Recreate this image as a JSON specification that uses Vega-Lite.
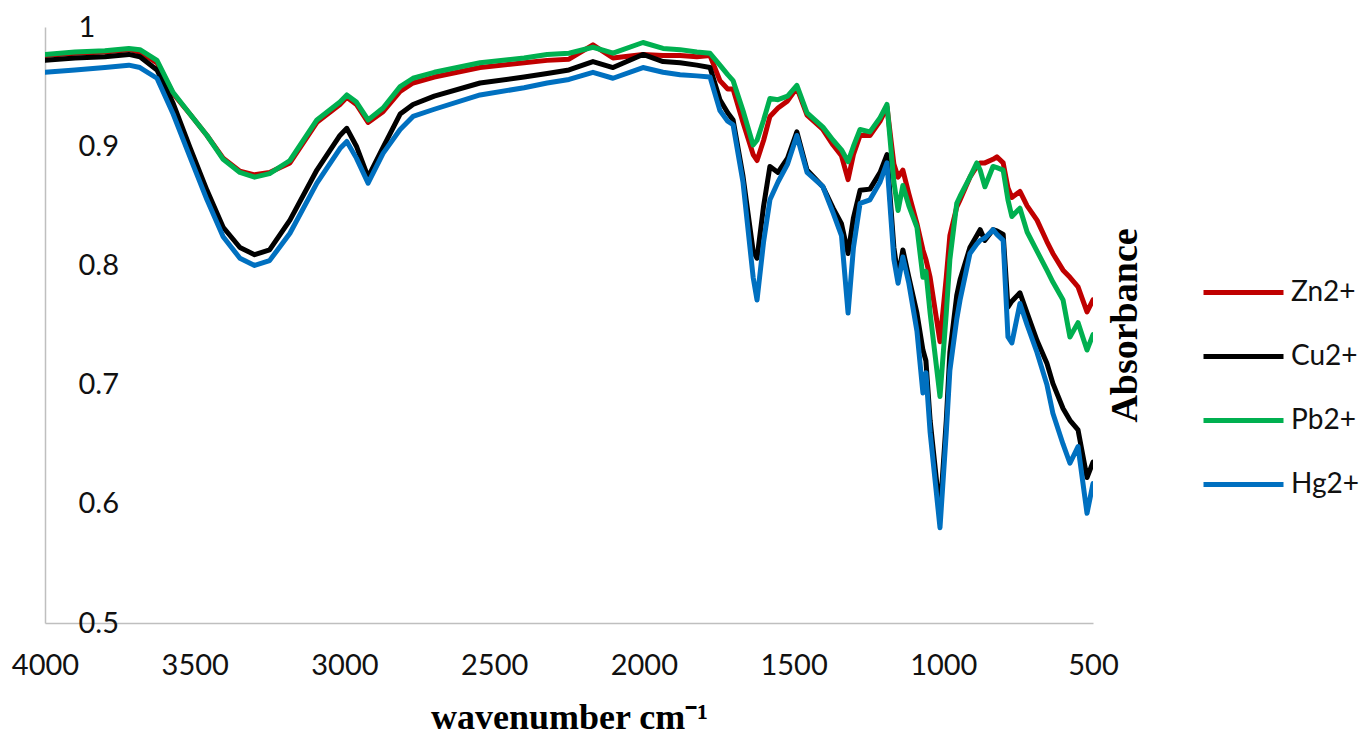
{
  "$schema": "https://vega.github.io/schema/vega-lite/v6.json",
  "autosize": {"type": "none"},
  "width": 1048,
  "height": 596,
  "padding": {"left": 45, "top": 27, "right": 269, "bottom": 118},
  "background": "white",
  "config": {"view": {"stroke": null}},
  "data": {"values": [
    {"w":4000,"Zn2+":0.976,"Cu2+":0.972,"Pb2+":0.977,"Hg2+":0.962},
    {"w":3900,"Zn2+":0.978,"Cu2+":0.974,"Pb2+":0.979,"Hg2+":0.964},
    {"w":3800,"Zn2+":0.979,"Cu2+":0.975,"Pb2+":0.980,"Hg2+":0.966},
    {"w":3720,"Zn2+":0.981,"Cu2+":0.977,"Pb2+":0.982,"Hg2+":0.968},
    {"w":3683,"Zn2+":0.979,"Cu2+":0.975,"Pb2+":0.981,"Hg2+":0.966},
    {"w":3626,"Zn2+":0.970,"Cu2+":0.964,"Pb2+":0.972,"Hg2+":0.957},
    {"w":3572,"Zn2+":0.944,"Cu2+":0.936,"Pb2+":0.945,"Hg2+":0.927},
    {"w":3516,"Zn2+":0.927,"Cu2+":0.899,"Pb2+":0.927,"Hg2+":0.891},
    {"w":3459,"Zn2+":0.909,"Cu2+":0.863,"Pb2+":0.909,"Hg2+":0.855},
    {"w":3405,"Zn2+":0.890,"Cu2+":0.832,"Pb2+":0.889,"Hg2+":0.824},
    {"w":3349,"Zn2+":0.879,"Cu2+":0.815,"Pb2+":0.878,"Hg2+":0.806},
    {"w":3300,"Zn2+":0.876,"Cu2+":0.809,"Pb2+":0.874,"Hg2+":0.800},
    {"w":3250,"Zn2+":0.878,"Cu2+":0.813,"Pb2+":0.877,"Hg2+":0.804},
    {"w":3182,"Zn2+":0.886,"Cu2+":0.838,"Pb2+":0.888,"Hg2+":0.827},
    {"w":3092,"Zn2+":0.920,"Cu2+":0.880,"Pb2+":0.922,"Hg2+":0.869},
    {"w":3015,"Zn2+":0.935,"Cu2+":0.909,"Pb2+":0.937,"Hg2+":0.898},
    {"w":2992,"Zn2+":0.941,"Cu2+":0.915,"Pb2+":0.943,"Hg2+":0.904},
    {"w":2960,"Zn2+":0.935,"Cu2+":0.900,"Pb2+":0.937,"Hg2+":0.890},
    {"w":2921,"Zn2+":0.920,"Cu2+":0.874,"Pb2+":0.922,"Hg2+":0.869},
    {"w":2871,"Zn2+":0.929,"Cu2+":0.899,"Pb2+":0.932,"Hg2+":0.894},
    {"w":2814,"Zn2+":0.946,"Cu2+":0.927,"Pb2+":0.950,"Hg2+":0.914},
    {"w":2771,"Zn2+":0.953,"Cu2+":0.935,"Pb2+":0.957,"Hg2+":0.925},
    {"w":2700,"Zn2+":0.958,"Cu2+":0.942,"Pb2+":0.962,"Hg2+":0.931},
    {"w":2547,"Zn2+":0.966,"Cu2+":0.953,"Pb2+":0.970,"Hg2+":0.943},
    {"w":2400,"Zn2+":0.970,"Cu2+":0.958,"Pb2+":0.974,"Hg2+":0.949},
    {"w":2323,"Zn2+":0.972,"Cu2+":0.961,"Pb2+":0.977,"Hg2+":0.953},
    {"w":2250,"Zn2+":0.973,"Cu2+":0.964,"Pb2+":0.978,"Hg2+":0.956},
    {"w":2170,"Zn2+":0.985,"Cu2+":0.971,"Pb2+":0.983,"Hg2+":0.962},
    {"w":2103,"Zn2+":0.974,"Cu2+":0.966,"Pb2+":0.978,"Hg2+":0.957},
    {"w":2003,"Zn2+":0.977,"Cu2+":0.977,"Pb2+":0.987,"Hg2+":0.966},
    {"w":1936,"Zn2+":0.976,"Cu2+":0.971,"Pb2+":0.982,"Hg2+":0.962},
    {"w":1879,"Zn2+":0.976,"Cu2+":0.970,"Pb2+":0.981,"Hg2+":0.960},
    {"w":1823,"Zn2+":0.975,"Cu2+":0.968,"Pb2+":0.979,"Hg2+":0.959},
    {"w":1779,"Zn2+":0.976,"Cu2+":0.966,"Pb2+":0.978,"Hg2+":0.958},
    {"w":1746,"Zn2+":0.955,"Cu2+":0.939,"Pb2+":0.968,"Hg2+":0.930},
    {"w":1720,"Zn2+":0.948,"Cu2+":0.928,"Pb2+":0.960,"Hg2+":0.921},
    {"w":1702,"Zn2+":0.948,"Cu2+":0.922,"Pb2+":0.955,"Hg2+":0.918},
    {"w":1669,"Zn2+":0.920,"Cu2+":0.875,"Pb2+":0.930,"Hg2+":0.870},
    {"w":1635,"Zn2+":0.893,"Cu2+":0.812,"Pb2+":0.901,"Hg2+":0.790},
    {"w":1622,"Zn2+":0.888,"Cu2+":0.806,"Pb2+":0.905,"Hg2+":0.771},
    {"w":1600,"Zn2+":0.905,"Cu2+":0.850,"Pb2+":0.922,"Hg2+":0.820},
    {"w":1579,"Zn2+":0.925,"Cu2+":0.883,"Pb2+":0.940,"Hg2+":0.855},
    {"w":1552,"Zn2+":0.932,"Cu2+":0.878,"Pb2+":0.939,"Hg2+":0.870},
    {"w":1520,"Zn2+":0.938,"Cu2+":0.890,"Pb2+":0.942,"Hg2+":0.885},
    {"w":1489,"Zn2+":0.949,"Cu2+":0.912,"Pb2+":0.951,"Hg2+":0.909},
    {"w":1455,"Zn2+":0.926,"Cu2+":0.880,"Pb2+":0.928,"Hg2+":0.878},
    {"w":1402,"Zn2+":0.914,"Cu2+":0.866,"Pb2+":0.916,"Hg2+":0.866},
    {"w":1368,"Zn2+":0.901,"Cu2+":0.848,"Pb2+":0.905,"Hg2+":0.844},
    {"w":1340,"Zn2+":0.892,"Cu2+":0.835,"Pb2+":0.897,"Hg2+":0.825},
    {"w":1318,"Zn2+":0.872,"Cu2+":0.810,"Pb2+":0.887,"Hg2+":0.760},
    {"w":1300,"Zn2+":0.893,"Cu2+":0.840,"Pb2+":0.900,"Hg2+":0.815},
    {"w":1278,"Zn2+":0.909,"Cu2+":0.863,"Pb2+":0.914,"Hg2+":0.852},
    {"w":1245,"Zn2+":0.909,"Cu2+":0.864,"Pb2+":0.912,"Hg2+":0.855},
    {"w":1211,"Zn2+":0.921,"Cu2+":0.878,"Pb2+":0.924,"Hg2+":0.870},
    {"w":1188,"Zn2+":0.933,"Cu2+":0.893,"Pb2+":0.935,"Hg2+":0.886},
    {"w":1165,"Zn2+":0.885,"Cu2+":0.815,"Pb2+":0.870,"Hg2+":0.805},
    {"w":1151,"Zn2+":0.874,"Cu2+":0.790,"Pb2+":0.846,"Hg2+":0.785},
    {"w":1135,"Zn2+":0.880,"Cu2+":0.813,"Pb2+":0.867,"Hg2+":0.807},
    {"w":1115,"Zn2+":0.860,"Cu2+":0.790,"Pb2+":0.850,"Hg2+":0.785},
    {"w":1088,"Zn2+":0.835,"Cu2+":0.760,"Pb2+":0.832,"Hg2+":0.745},
    {"w":1068,"Zn2+":0.813,"Cu2+":0.729,"Pb2+":0.790,"Hg2+":0.693},
    {"w":1058,"Zn2+":0.805,"Cu2+":0.720,"Pb2+":0.795,"Hg2+":0.710},
    {"w":1044,"Zn2+":0.790,"Cu2+":0.670,"Pb2+":0.760,"Hg2+":0.660},
    {"w":1011,"Zn2+":0.736,"Cu2+":0.592,"Pb2+":0.690,"Hg2+":0.580},
    {"w":990,"Zn2+":0.790,"Cu2+":0.670,"Pb2+":0.760,"Hg2+":0.660},
    {"w":978,"Zn2+":0.825,"Cu2+":0.727,"Pb2+":0.805,"Hg2+":0.712},
    {"w":955,"Zn2+":0.849,"Cu2+":0.775,"Pb2+":0.852,"Hg2+":0.755},
    {"w":944,"Zn2+":0.855,"Cu2+":0.788,"Pb2+":0.858,"Hg2+":0.771},
    {"w":911,"Zn2+":0.874,"Cu2+":0.815,"Pb2+":0.874,"Hg2+":0.810},
    {"w":888,"Zn2+":0.883,"Cu2+":0.825,"Pb2+":0.886,"Hg2+":0.818},
    {"w":877,"Zn2+":0.886,"Cu2+":0.830,"Pb2+":0.880,"Hg2+":0.821},
    {"w":861,"Zn2+":0.886,"Cu2+":0.821,"Pb2+":0.866,"Hg2+":0.823},
    {"w":834,"Zn2+":0.889,"Cu2+":0.830,"Pb2+":0.883,"Hg2+":0.830},
    {"w":821,"Zn2+":0.891,"Cu2+":0.829,"Pb2+":0.882,"Hg2+":0.826},
    {"w":800,"Zn2+":0.886,"Cu2+":0.826,"Pb2+":0.880,"Hg2+":0.821},
    {"w":784,"Zn2+":0.865,"Cu2+":0.765,"Pb2+":0.855,"Hg2+":0.740},
    {"w":771,"Zn2+":0.857,"Cu2+":0.770,"Pb2+":0.841,"Hg2+":0.735},
    {"w":744,"Zn2+":0.862,"Cu2+":0.777,"Pb2+":0.848,"Hg2+":0.768},
    {"w":720,"Zn2+":0.850,"Cu2+":0.760,"Pb2+":0.828,"Hg2+":0.750},
    {"w":687,"Zn2+":0.838,"Cu2+":0.737,"Pb2+":0.812,"Hg2+":0.727},
    {"w":654,"Zn2+":0.820,"Cu2+":0.718,"Pb2+":0.796,"Hg2+":0.700},
    {"w":634,"Zn2+":0.810,"Cu2+":0.701,"Pb2+":0.786,"Hg2+":0.676},
    {"w":600,"Zn2+":0.796,"Cu2+":0.680,"Pb2+":0.771,"Hg2+":0.650},
    {"w":577,"Zn2+":0.790,"Cu2+":0.670,"Pb2+":0.740,"Hg2+":0.634},
    {"w":550,"Zn2+":0.782,"Cu2+":0.662,"Pb2+":0.752,"Hg2+":0.648},
    {"w":520,"Zn2+":0.761,"Cu2+":0.622,"Pb2+":0.729,"Hg2+":0.592},
    {"w":500,"Zn2+":0.771,"Cu2+":0.635,"Pb2+":0.742,"Hg2+":0.617}
  ]},
  "transform": [
    {"fold": ["Zn2+", "Cu2+", "Pb2+", "Hg2+"], "as": ["ion", "a"]}
  ],
  "encoding": {
    "x": {
      "field": "w", "type": "quantitative",
      "scale": {"domain": [4000, 500], "nice": false, "zero": false},
      "axis": {
        "title": "wavenumber cm⁻¹",
        "titleFont": "Liberation Serif", "titleFontSize": 36, "titleFontWeight": "bold", "titleColor": "black",
        "titlePadding": 20,
        "values": [4000, 3500, 3000, 2500, 2000, 1500, 1000, 500],
        "format": "d",
        "labelFont": "Lato", "labelFontSize": 29, "labelColor": "#111111",
        "labelPadding": 28, "labelFlush": false, "labelOverlap": false,
        "ticks": false, "grid": false,
        "domainColor": "#BFBFBF", "domainWidth": 1.5
      }
    },
    "y": {
      "field": "a", "type": "quantitative",
      "scale": {"domain": [0.5, 1], "nice": false, "zero": false},
      "axis": {
        "title": "Absorbance",
        "titleFont": "Liberation Serif", "titleFontSize": 38, "titleFontWeight": "bold", "titleColor": "black",
        "titleX": 1080, "titleY": 298, "titleAngle": 270, "titleAlign": "center", "titleBaseline": "middle",
        "values": [0.5, 0.6, 0.7, 0.8, 0.9, 1],
        "format": ".1~f",
        "labelFont": "Lato", "labelFontSize": 29, "labelColor": "#111111",
        "labelAlign": "left", "labelBaseline": "middle", "labelPadding": -33,
        "ticks": false, "grid": false,
        "domainColor": "#BFBFBF", "domainWidth": 1.5
      }
    },
    "color": {
      "field": "ion", "type": "nominal",
      "sort": ["Zn2+", "Cu2+", "Pb2+", "Hg2+"],
      "scale": {"domain": ["Zn2+", "Cu2+", "Pb2+", "Hg2+"], "range": ["#C00000", "#000000", "#00B050", "#0070C0"]},
      "legend": {
        "title": null, "orient": "none", "legendX": 1156, "legendY": 223,
        "symbolType": "stroke", "symbolSize": 6400, "symbolStrokeWidth": 5,
        "labelFont": "Lato", "labelFontSize": 28, "labelColor": "#111111", "labelOffset": 5,
        "rowPadding": 7, "padding": 0
      }
    }
  },
  "layer": [
    {"transform": [{"filter": "datum.ion === 'Zn2+'"}], "mark": {"type": "line", "strokeWidth": 5, "strokeJoin": "round", "strokeCap": "round", "clip": true}},
    {"transform": [{"filter": "datum.ion === 'Cu2+'"}], "mark": {"type": "line", "strokeWidth": 5, "strokeJoin": "round", "strokeCap": "round", "clip": true}},
    {"transform": [{"filter": "datum.ion === 'Pb2+'"}], "mark": {"type": "line", "strokeWidth": 5, "strokeJoin": "round", "strokeCap": "round", "clip": true}},
    {"transform": [{"filter": "datum.ion === 'Hg2+'"}], "mark": {"type": "line", "strokeWidth": 5, "strokeJoin": "round", "strokeCap": "round", "clip": true}}
  ]
}
